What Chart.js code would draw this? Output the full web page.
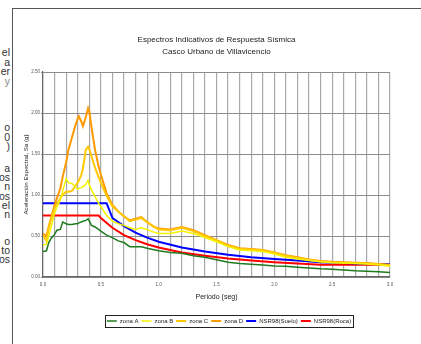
<!DOCTYPE html>
<html lang="es">
  <head>
    <meta charset="UTF-8" />
    <title>Espectros Indicativos de Respuesta Sísmica</title>
    <script src="https://cdn.jsdelivr.net/npm/chart.js"></script>
    <style>
      body {
        margin: 0;
        width: 421px;
        height: 344px;
        overflow: hidden;
        background: #fff;
        font-family: "Liberation Sans", Arial, sans-serif;
      }
      .side {
        position: absolute;
        left: 0;
        top: 0;
        width: 10px;
        font-size: 10.5px;
        color: #333;
      }
      .side span {
        position: absolute;
        right: 0;
        white-space: nowrap;
      }
      .vline {
        position: absolute;
        left: 12px;
        top: 8px;
        width: 1px;
        height: 340px;
        background: #555;
        z-index: 2;
      }
      .hline {
        position: absolute;
        left: 12px;
        top: 8px;
        width: 412px;
        height: 1px;
        background: #555;
        z-index: 2;
      }
      #espectros {
        position: absolute;
        left: 13px;
        top: 9px;
      }
    </style>
  </head>
  <body>
    <div class="side" id="side"></div>
    <div class="vline"></div>
    <div class="hline"></div>
    <canvas id="espectros" width="408" height="335"></canvas>

    <script>
      // cut off paragraph text beside the figure
      const sideText = [
        ["el", 46], ["a", 56], ["er", 65], ["y", 75],
        ["o", 121], ["0", 131], [")", 140],
        ["a", 162], ["os", 171], ["n", 180], ["os", 190], ["el", 199], ["n", 208],
        ["o", 235], ["to", 244], ["os", 253],
      ];
      const side = document.getElementById("side");
      sideText.forEach(([t, y]) => {
        const s = document.createElement("span");
        s.textContent = t;
        s.style.top = y + "px";
        if (t === "y") s.style.color = "#888";
        side.appendChild(s);
      });

      // Periodo (seg)
      const periods = [
        0, 0.03, 0.05, 0.07, 0.1, 0.12, 0.15, 0.17, 0.2, 0.22, 0.25, 0.28,
        0.3, 0.31, 0.33, 0.345, 0.37, 0.39, 0.4, 0.42, 0.45, 0.48, 0.5, 0.55,
        0.6, 0.65, 0.7, 0.75, 0.8, 0.85, 0.9, 0.95, 1.0, 1.1, 1.2, 1.3, 1.4,
        1.5, 1.6, 1.7, 1.8, 1.9, 2.0, 2.1, 2.2, 2.3, 2.4, 2.5, 2.6, 2.7, 2.8,
        2.9, 3.0,
      ];
      const zonaA = [
        0.31, 0.32, 0.42, 0.47, 0.52, 0.57, 0.58, 0.67, 0.65, 0.64, 0.64, 0.65,
        0.65, 0.66, 0.67, 0.68, 0.69, 0.71, 0.68, 0.63, 0.61, 0.58, 0.56, 0.51,
        0.48, 0.44, 0.42, 0.37, 0.37, 0.37, 0.35, 0.335, 0.32, 0.3, 0.29, 0.26,
        0.24, 0.21, 0.18, 0.165, 0.155, 0.145, 0.135, 0.13, 0.12, 0.11, 0.1,
        0.095, 0.085, 0.075, 0.07, 0.065, 0.055,
      ];
      const zonaB = [
        0.39, 0.4, 0.5, 0.61, 0.78, 0.85, 0.94, 1.05, 1.2, 1.15, 1.14, 1.1,
        1.07, 1.08, 1.09, 1.1, 1.13, 1.18, 1.12, 1.06, 0.98, 0.9, 0.86, 0.75,
        0.68, 0.65, 0.63, 0.6, 0.58, 0.6, 0.58, 0.55, 0.53, 0.53, 0.56, 0.53,
        0.48, 0.43, 0.37, 0.33, 0.32, 0.31, 0.28, 0.24, 0.22, 0.2, 0.185,
        0.175, 0.17, 0.165, 0.16, 0.15, 0.13,
      ];
      const zonaC = [
        0.51, 0.44, 0.6, 0.71, 0.84, 0.89, 0.96, 1.0, 1.04, 1.04, 1.05, 1.11,
        1.15, 1.18, 1.24, 1.32, 1.55, 1.59, 1.56, 1.47, 1.33, 1.22, 1.15, 0.99,
        0.86, 0.8, 0.74, 0.68, 0.7, 0.72, 0.67, 0.62, 0.58, 0.57, 0.6, 0.56,
        0.5, 0.45, 0.38, 0.345, 0.335, 0.325, 0.295, 0.26, 0.235, 0.21, 0.19,
        0.18, 0.175, 0.17, 0.165, 0.155, 0.14,
      ];
      const zonaD = [
        0.53, 0.5, 0.62, 0.72, 0.88, 0.96, 1.08, 1.22, 1.4, 1.55, 1.7, 1.85,
        1.93, 1.96, 1.9, 1.84, 1.95, 2.06, 2.02, 1.82, 1.55, 1.35, 1.25, 1.02,
        0.88, 0.8, 0.74, 0.69, 0.71, 0.73, 0.67, 0.62, 0.59, 0.58, 0.61, 0.57,
        0.51, 0.45, 0.39, 0.35, 0.34, 0.33, 0.3, 0.265, 0.24, 0.215, 0.195,
        0.185, 0.18, 0.175, 0.17, 0.16, 0.15,
      ];

      // NSR98 design spectra, corner points
      const suelo = [
        [0, 0.9], [0.55, 0.9], [0.6, 0.72], [0.7, 0.62], [0.8, 0.54],
        [0.9, 0.48], [1.0, 0.43], [1.2, 0.36], [1.4, 0.31], [1.6, 0.27],
        [1.8, 0.24], [2.0, 0.22], [2.2, 0.2], [2.4, 0.18], [2.6, 0.17],
        [2.8, 0.16], [3.0, 0.155],
      ];
      const roca = [
        [0, 0.75], [0.48, 0.75], [0.5, 0.72], [0.6, 0.6], [0.7, 0.51],
        [0.8, 0.45], [0.9, 0.4], [1.0, 0.36], [1.2, 0.3], [1.4, 0.26],
        [1.6, 0.225], [1.8, 0.2], [2.0, 0.18], [2.2, 0.165], [2.4, 0.15],
        [3.0, 0.15],
      ];

      const toXY = (ys) => ys.map((y, i) => ({ x: periods[i], y: y }));
      const pairs = (pts) => pts.map(([x, y]) => ({ x: x, y: y }));

      const line = (label, data, color, width) => ({
        label: label,
        data: data,
        borderColor: color,
        backgroundColor: color,
        borderWidth: width,
        pointRadius: 0,
        tension: 0,
        fill: false,
      });

      // legend sits a bit right of centre, inside a thin box
      const LEGEND_CENTER = 216;
      const legendBox = {
        id: "legendBox",
        afterLayout(chart) {
          const lg = chart.legend;
          const shift = LEGEND_CENTER - (lg.left + lg.right) / 2;
          lg.left += shift;
          lg.right += shift;
        },
        afterDraw(chart) {
          const boxes = chart.legend.legendHitBoxes;
          if (!boxes.length) return;
          const left = Math.min(...boxes.map((b) => b.left)) - 2;
          const right = Math.max(...boxes.map((b) => b.left + b.width)) + 2;
          const top = boxes[0].top - 3;
          const bottom = boxes[0].top + boxes[0].height + 3;
          const ctx = chart.ctx;
          ctx.save();
          ctx.strokeStyle = "#222";
          ctx.lineWidth = 1;
          ctx.strokeRect(
            Math.round(left) + 0.5,
            Math.round(top) + 0.5,
            Math.round(right - left),
            Math.round(bottom - top)
          );
          ctx.restore();
        },
      };

      Chart.defaults.font.family = "'Liberation Sans', Arial, sans-serif";
      Chart.defaults.color = "#222";

      new Chart(document.getElementById("espectros").getContext("2d"), {
        type: "line",
        data: {
          datasets: [
            line("zona A", toXY(zonaA), "#1f7a1f", 1.5),
            line("zona B", toXY(zonaB), "#f4f400", 1.5),
            line("zona C", toXY(zonaC), "#ffc800", 2),
            line("zona D", toXY(zonaD), "#ff9a00", 2),
            line("NSR98(Suelo)", pairs(suelo), "#0000ff", 2),
            line("NSR98(Roca)", pairs(roca), "#ff0000", 2),
          ],
        },
        options: {
          responsive: false,
          animation: false,
          layout: { padding: { left: 3, right: 31, top: 0, bottom: 10 } },
          plugins: {
            title: {
              display: true,
              fullSize: false,
              text: [
                "Espectros Indicativos de Respuesta Sísmica",
                "Casco Urbano de Villavicencio",
              ],
              font: { size: 8, weight: "normal", lineHeight: 1.6 },
              padding: { top: 24, bottom: 13.4 },
            },
            legend: {
              position: "bottom",
              labels: {
                usePointStyle: true,
                pointStyle: "line",
                pointStyleWidth: 10,
                boxHeight: 2,
                padding: 3,
                font: { size: 6 },
              },
            },
            tooltip: { enabled: false },
          },
          scales: {
            x: {
              type: "linear",
              min: 0,
              max: 3,
              ticks: {
                stepSize: 0.1,
                autoSkip: false,
                maxRotation: 0,
                font: { size: 4.5 },
                color: "#555",
                padding: 5,
                callback: (v) =>
                  Math.round(v * 10) % 5 === 0 ? Number(v).toFixed(1) : "",
              },
              grid: { color: "#a8a8a8", lineWidth: 1.2, drawTicks: false },
              border: { color: "#666", width: 1.2 },
              title: {
                display: true,
                text: "Periodo (seg)",
                font: { size: 7 },
                padding: { top: 0, bottom: 14 },
              },
              afterFit: (scale) => {
                scale.height = 38;
              },
            },
            y: {
              min: 0,
              max: 2.5,
              ticks: {
                stepSize: 0.5,
                font: { size: 4.5 },
                color: "#555",
                padding: 1,
                callback: (v) => Number(v).toFixed(2),
              },
              grid: { color: "#8c8c8c", lineWidth: 1, drawTicks: true, tickLength: 2 },
              border: { color: "#666", width: 1.2 },
              title: {
                display: true,
                text: "Aceleración Espectral, Sa (g)",
                font: { size: 6.2 },
                padding: { top: 7, bottom: 0 },
              },
              afterFit: (scale) => {
                scale.width = 27;
              },
            },
          },
        },
        plugins: [legendBox],
      });
    </script>
  </body>
</html>
